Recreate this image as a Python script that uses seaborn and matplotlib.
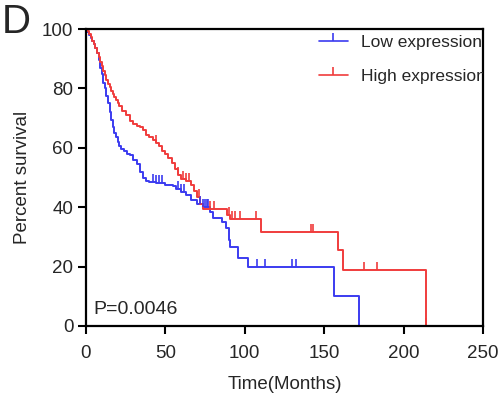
import numpy as np
import pandas as pd
import seaborn as sns
import matplotlib.pyplot as plt
from matplotlib.lines import Line2D

# -------------------------------------------------------------------
# Data
# -------------------------------------------------------------------
low_time = [0, 1, 2, 3, 4, 5, 6, 7, 8, 9, 10, 11, 12, 13, 14, 15, 16, 17, 18,
            19, 20, 21, 22, 24, 26, 28, 30, 32, 34, 36, 38, 40, 44, 50, 55, 57,
            60, 63, 66, 70, 74, 78, 80, 86, 88, 90, 91, 96, 102, 156, 172]
low_surv = [100, 99, 98, 97, 96, 95, 93.5, 92, 89.5, 87, 85, 82, 80, 77.5, 75,
            72, 69.5, 67, 65, 63.5, 62, 60.5, 59.5, 59, 58, 57.5, 56, 54.5, 52,
            50, 49, 48.5, 48, 47.5, 47, 46, 45, 44, 42.5, 41, 40, 38.5, 36.5,
            35, 33, 29, 26.5, 23, 20, 10, 0]
low_censor = [42, 44, 46, 48, 58, 60, 62, 72, 74, 75, 76, 77, 108, 113, 130, 132]

high_time = [0, 1, 2, 3, 4, 5, 6, 7, 8, 9, 10, 11, 12, 13, 14, 15, 16, 17, 18,
             19, 20, 21, 23, 25, 28, 30, 32, 34, 36, 38, 40, 42, 44, 46, 48, 50,
             52, 54, 56, 58, 60, 63, 66, 68, 70, 72, 74, 89, 91, 110, 159, 162, 214]
high_surv = [100, 99.5, 98.5, 97.5, 96, 95, 93.5, 92, 90.5, 89, 87.5, 86, 84.5,
             83, 81.5, 80.5, 79, 78, 77, 76, 75, 74, 72.5, 71, 69, 68, 67.5, 67,
             66, 64.5, 63.5, 62.5, 61.5, 60.5, 59, 58, 56.5, 55, 53, 51, 49.5,
             49, 47.5, 45.5, 43.5, 41, 39.5, 37.5, 36, 31.5, 25.5, 19, 0]
high_censor = [44, 58, 61, 63, 65, 71, 78, 81, 90, 92, 94, 97, 107, 142, 143,
               175, 183, 214]

groups = ["Low expression", "High expression"]
colors = {"Low expression": "#3b3bf0", "High expression": "#f03c3c"}
x_ticks = [0, 50, 100, 150, 200, 250]
y_ticks = [0, 20, 40, 60, 80, 100]
p_text = "P=0.0046"


def surv_at(times, surv, t):
    idx = np.searchsorted(np.asarray(times), np.asarray(t), side="right") - 1
    return np.asarray(surv)[idx]


sns.set_theme(style="ticks")
plt.rcParams["font.family"] = ["Liberation Sans", "DejaVu Sans"]

curves = pd.concat([
    pd.DataFrame({"time": low_time, "surv": low_surv, "group": groups[0]}),
    pd.DataFrame({"time": high_time, "surv": high_surv, "group": groups[1]}),
])

fig = plt.figure(figsize=(5.02, 3.99), dpi=100)
ax = fig.add_axes([0.171, 0.183, 0.791, 0.744])

sns.lineplot(data=curves, x="time", y="surv", hue="group", palette=colors,
             drawstyle="steps-post", estimator=None, linewidth=1.4,
             legend=False, ax=ax)

for g, t, s, c in [(groups[0], low_time, low_surv, low_censor),
                   (groups[1], high_time, high_surv, high_censor)]:
    ax.plot(c, surv_at(t, s, c), linestyle="none", marker=2, markersize=6,
            markeredgewidth=1.2, color=colors[g])

ax.set_xlim(0, 250)
ax.set_ylim(0, 100)
ax.set_xticks(x_ticks)
ax.set_yticks(y_ticks)
ax.set_xlabel("Time(Months)", fontsize=13.5, labelpad=10)
ax.set_ylabel("Percent survival", fontsize=13.5, labelpad=8)
ax.tick_params(labelsize=13.5, length=6, width=1.5, color="black")
ax.tick_params(axis="x", pad=8)
ax.tick_params(axis="y", pad=3)
for sp in ax.spines.values():
    sp.set_linewidth(1.6)
    sp.set_color("black")
    sp.set_visible(True)

handles = [Line2D([], [], color=colors[g], marker=2, markersize=6,
                  markeredgewidth=1.2, linewidth=1.2) for g in groups]
leg = ax.legend(handles, groups, loc="upper left", bbox_to_anchor=(0.547, 1.032),
                frameon=False, fontsize=12.5, handlelength=1.7,
                handletextpad=0.75, labelspacing=1.05)
for t in leg.get_texts():
    t.set_clip_box(ax.bbox)
    t.set_clip_on(True)

ax.text(5, 4, p_text, fontsize=14, va="baseline")
fig.text(0.004, 0.918, "D", fontsize=29, va="baseline")

fig.savefig("out.png", dpi=100)
plt.close(fig)
